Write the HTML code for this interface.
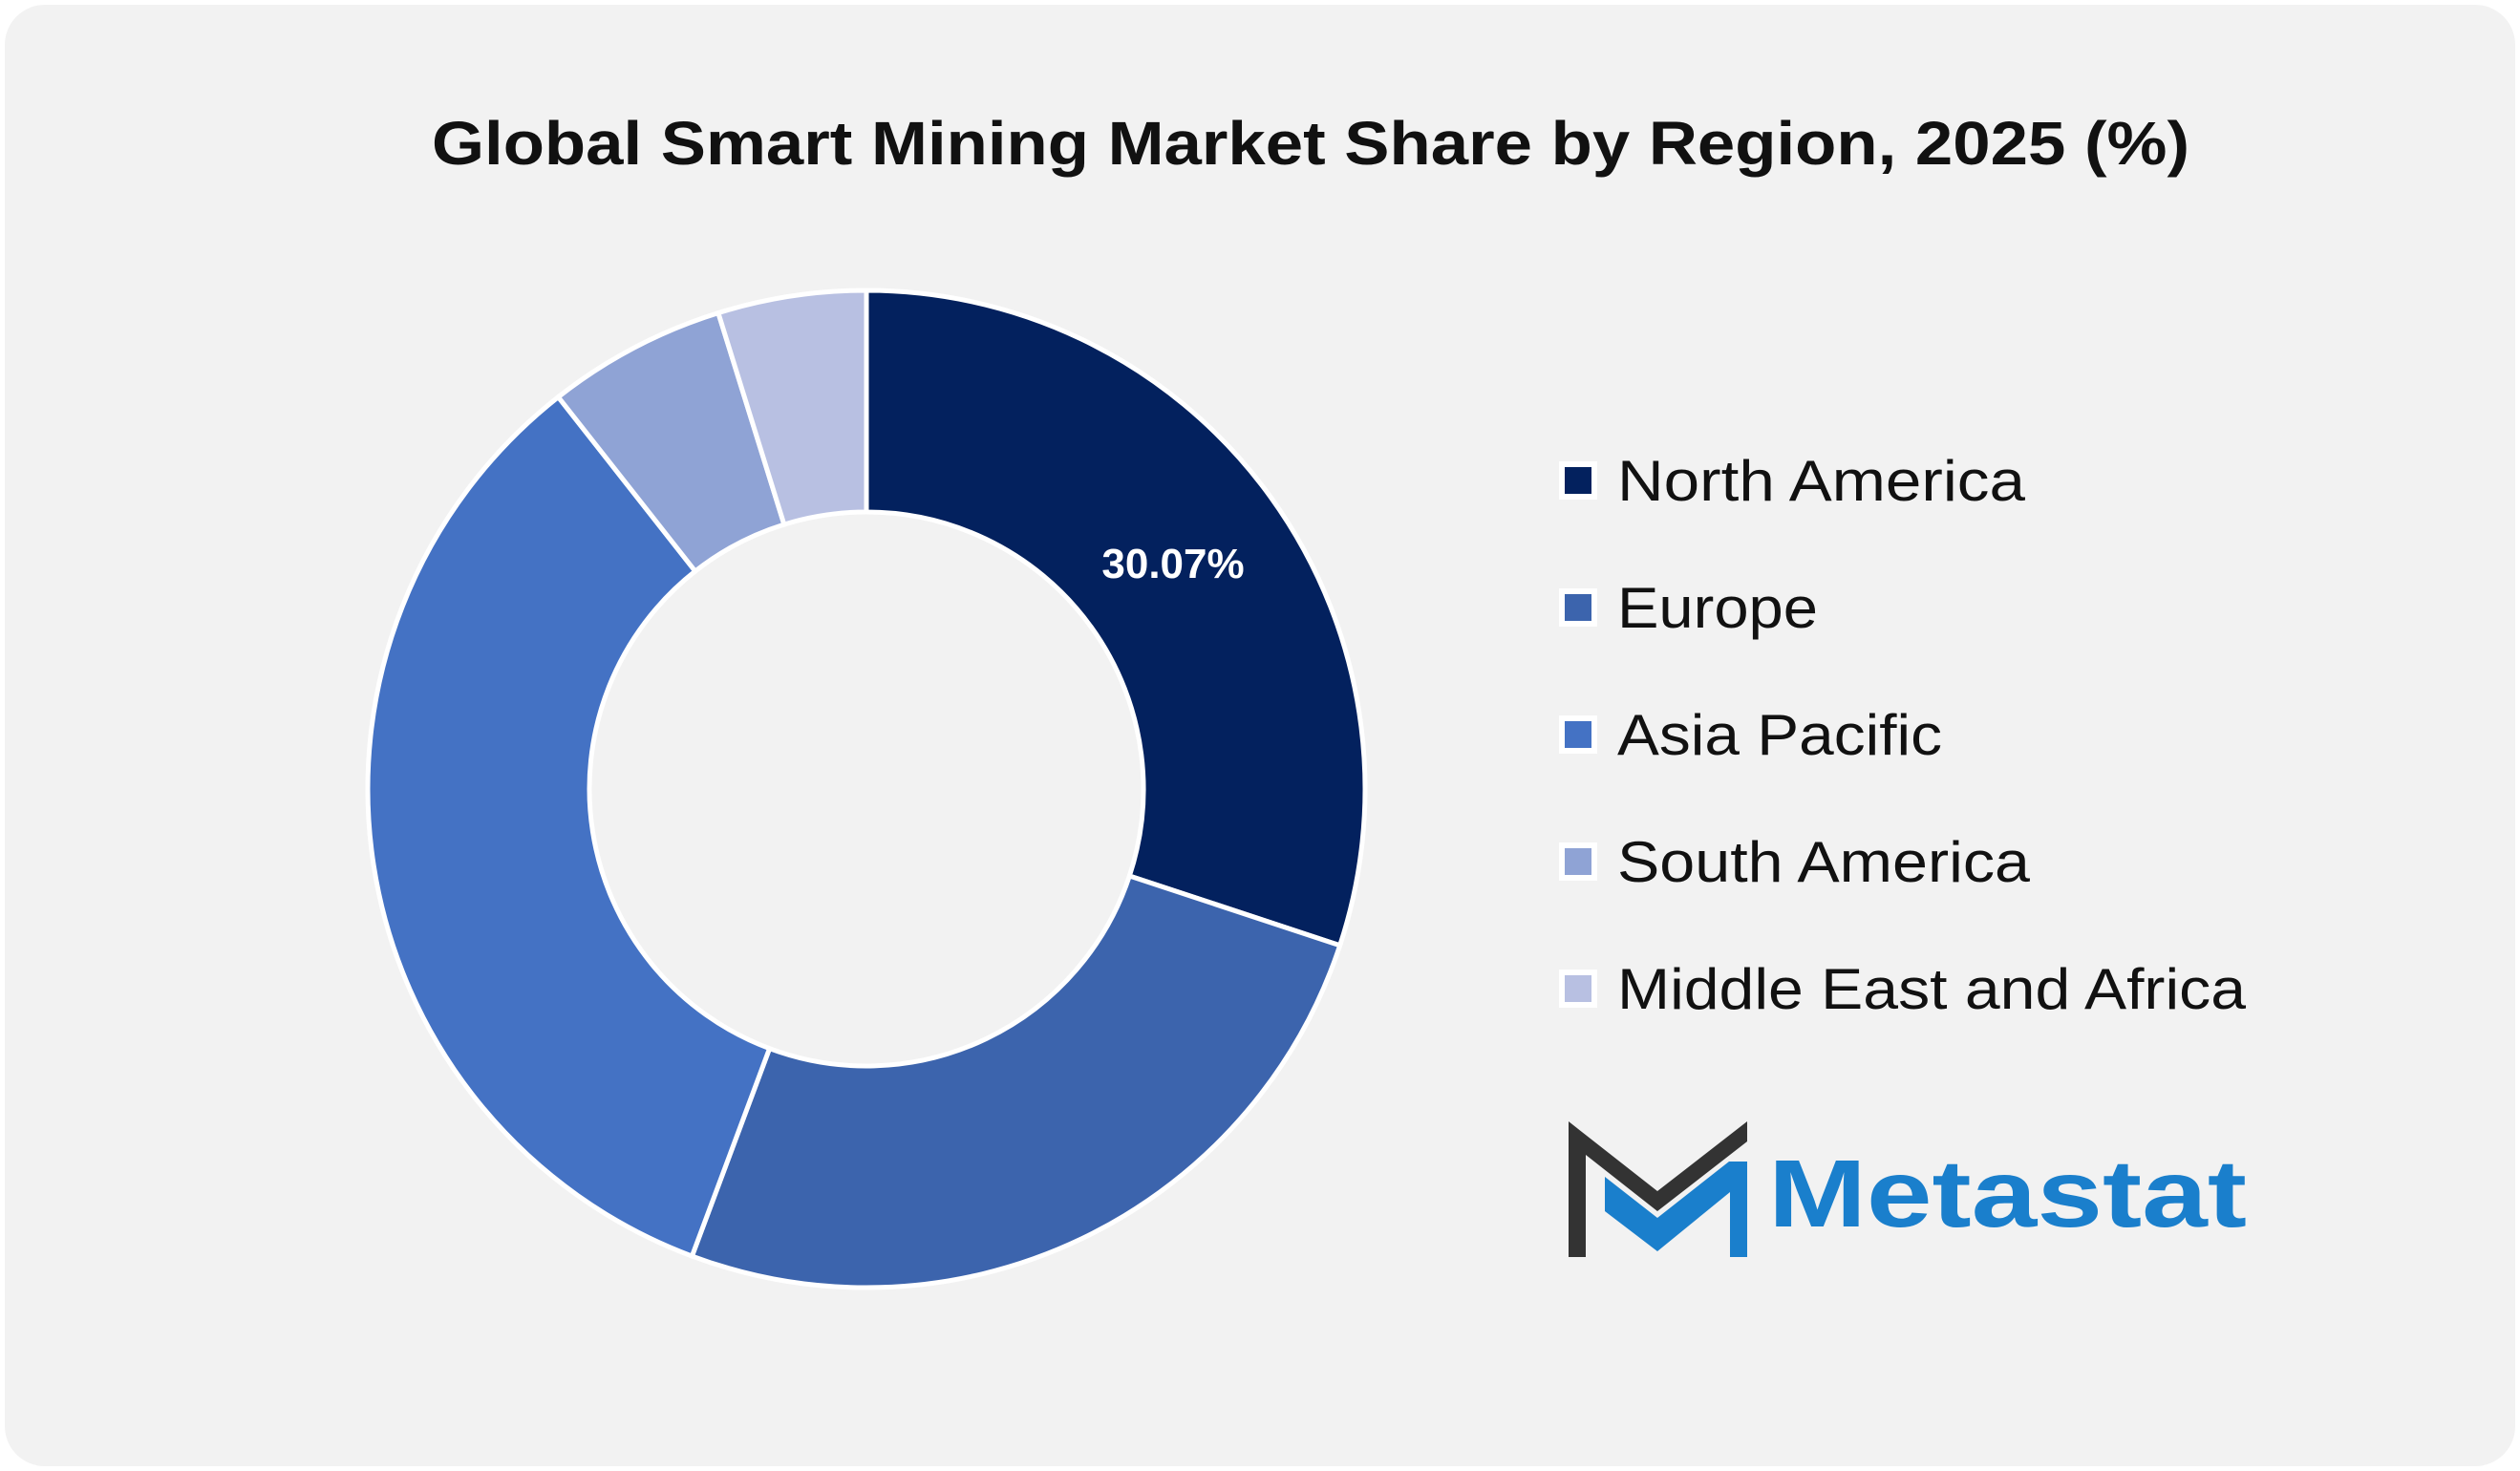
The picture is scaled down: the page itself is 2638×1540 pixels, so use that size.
<!DOCTYPE html>
<html><head><meta charset="utf-8"><style>
html,body{margin:0;padding:0;background:#fff;}
svg{display:block;font-family:"Liberation Sans",sans-serif;}
</style></head><body>
<svg id="chart" width="2638" height="1540" viewBox="0 0 2638 1540">
<rect x="5" y="5" width="2628" height="1530" rx="42" fill="#f2f2f2"/>
<text x="1372" y="172" text-anchor="middle" font-size="64" font-weight="bold" fill="#111" textLength="1840" lengthAdjust="spacingAndGlyphs">Global Smart Mining Market Share by Region, 2025 (%)</text>
<g id="slices"></g>
<text x="1228" y="605" text-anchor="middle" font-size="44" font-weight="bold" fill="#fff">30.07%</text>
<g id="legend"></g>
<g>
<polygon points="1642,1174 1735,1247 1829,1174 1829,1195 1735,1268 1660,1209 1660,1316 1642,1316" fill="#333"/>
<polygon points="1680,1232 1735,1275 1810,1216 1829,1216 1829,1316 1811,1316 1811,1248 1735,1310 1680,1268" fill="#1a7fcc"/>
<text x="1851" y="1284" font-size="100" font-weight="bold" fill="#1a7fcc" textLength="501" lengthAdjust="spacingAndGlyphs">Metastat</text>
</g>
</svg>
<script>
const categories = ["North America","Europe","Asia Pacific","South America","Middle East and Africa"];
const shares = [30.07, 25.6, 33.7, 5.8, 4.8];
const colors = ["#03215e","#3c64ad","#4472c4","#8fa3d5","#b8c0e2"];
const NS = "http://www.w3.org/2000/svg";
const cx = 907, cy = 826, R = 522, r = 290;
const total = shares.reduce((a,b)=>a+b,0);
function angleOf(v){ return v/total*2*Math.PI; }
function pt(rad, a){ return [cx + rad*Math.sin(a), cy - rad*Math.cos(a)]; }
const g = document.getElementById('slices');
let acc = 0;
shares.forEach((v,i)=>{
  const a0 = angleOf(acc), a1 = angleOf(acc+v); acc += v;
  const large = (a1-a0) > Math.PI ? 1 : 0;
  const p0 = pt(R,a0), p1 = pt(R,a1), q1 = pt(r,a1), q0 = pt(r,a0);
  const d = `M${p0[0]},${p0[1]} A${R},${R} 0 ${large} 1 ${p1[0]},${p1[1]} L${q1[0]},${q1[1]} A${r},${r} 0 ${large} 0 ${q0[0]},${q0[1]} Z`;
  const p = document.createElementNS(NS,'path');
  p.setAttribute('d', d);
  p.setAttribute('fill', colors[i]);
  p.setAttribute('stroke', '#fff');
  p.setAttribute('stroke-width', '5');
  
  
  g.appendChild(p);
});
const lg = document.getElementById('legend');
const widths = [427, 210, 340, 432, 658];
categories.forEach((c,i)=>{
  const y = 503 + i*133;
  const e = document.createElementNS(NS,'g');
  
  
  const s = document.createElementNS(NS,'rect');
  s.setAttribute('x', 1635); s.setAttribute('y', y-17); s.setAttribute('width', 34); s.setAttribute('height', 34);
  s.setAttribute('fill', colors[i]); s.setAttribute('stroke', '#fff'); s.setAttribute('stroke-width', '6');
  
  
  const t = document.createElementNS(NS,'text');
  t.setAttribute('x', 1693); t.setAttribute('y', y+21);
  t.setAttribute('font-size', '60'); t.setAttribute('fill', '#111');
  t.setAttribute('textLength', widths[i]); t.setAttribute('lengthAdjust', 'spacingAndGlyphs');
  t.textContent = c;
  
  
  e.appendChild(s); e.appendChild(t); lg.appendChild(e);
});
</script>
</body></html>
